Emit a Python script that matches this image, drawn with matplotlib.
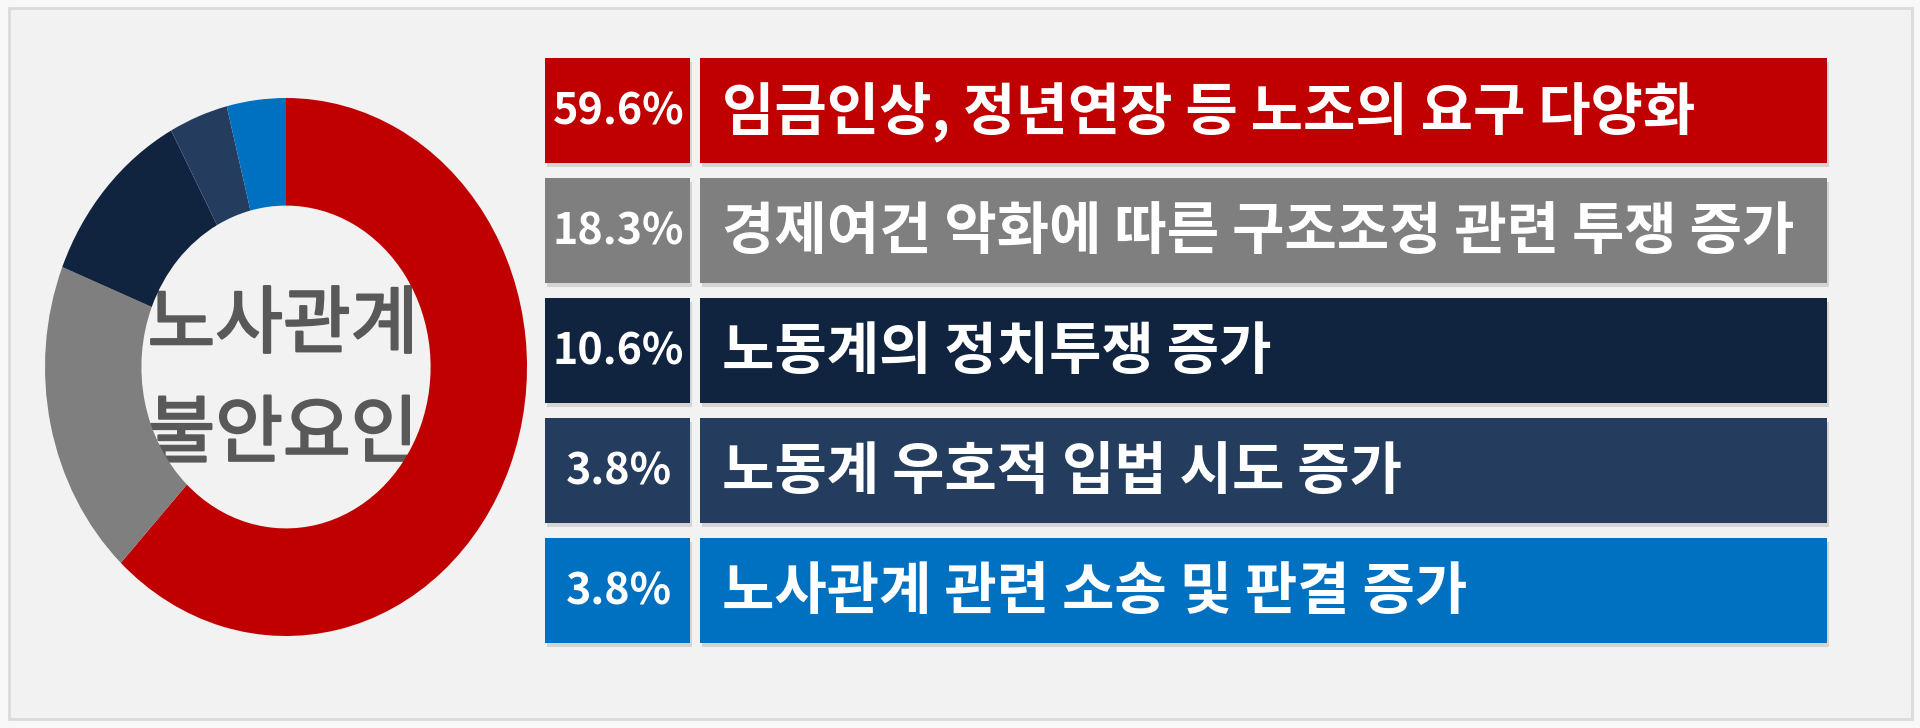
import matplotlib
matplotlib.use("Agg")
import matplotlib.pyplot as plt
import matplotlib.transforms as mtransforms
import matplotlib.patheffects as pe
from matplotlib.patches import Rectangle

plt.rcParams['font.family'] = ['Noto Sans CJK KR', 'DejaVu Sans']

# ---- data ----
categories = [
    "임금인상, 정년연장 등 노조의 요구 다양화",
    "경제여건 악화에 따른 구조조정 관련 투쟁 증가",
    "노동계의 정치투쟁 증가",
    "노동계 우호적 입법 시도 증가",
    "노사관계 관련 소송 및 판결 증가",
]
values = [59.6, 18.3, 10.6, 3.8, 3.8]
colors = ["#C00000", "#7F7F7F", "#10243F", "#243D5F", "#0070C0"]
center_title = "노사관계\n불안요인"

W, H = 1920, 728
fig = plt.figure(figsize=(W / 100, H / 100), dpi=100)
fig.patch.set_facecolor("#f8f8f8")

# full-figure pixel axes
ax = fig.add_axes([0, 0, 1, 1])
ax.set_xlim(0, W)
ax.set_ylim(H, 0)
ax.axis("off")

# frame
ax.add_patch(Rectangle((9, 8), 1903, 711, facecolor="#f2f2f2",
                       edgecolor="#dadada", lw=2, zorder=0))

# bars (table rows)
n = len(values)
row_top0, pitch, row_h = 58, 120, 105
centers = [row_top0 + row_h / 2 + pitch * i for i in range(n)]
sx, sw = 545, 145
lx, lw_ = 700, 1127

shadow_tr = ax.transData + mtransforms.ScaledTranslation(0.02, -0.04, fig.dpi_scale_trans)
for left, width in ((sx, sw), (lx, lw_)):
    ax.barh(centers, [width] * n, left=left, height=row_h, color="#000000",
            alpha=0.12, zorder=1, transform=shadow_tr)
    ax.barh(centers, [width] * n, left=left, height=row_h, color=colors, zorder=2)

for c, v, lab in zip(centers, values, categories):
    ax.text(sx + sw / 2 + 1, c + 1, f"{v:.1f}%", ha="center", va="center",
            color="white", fontsize=31, fontweight="bold", zorder=3)
    ax.text(lx + 22, c + 1, lab, ha="left", va="center",
            color="white", fontsize=41, fontweight="bold", zorder=3)

# donut
cx, cy, rx, ry = 286, 367, 241, 269
pax = fig.add_axes([(cx - rx) / W, (H - cy - ry) / H, 2 * rx / W, 2 * ry / H])
pax.pie(values, colors=colors, startangle=90, counterclock=False,
        wedgeprops=dict(width=0.40, linewidth=0))
pax.set_aspect("auto")
pax.set_xlim(-1, 1)
pax.set_ylim(-1, 1)
pax.axis("off")

ax.text(cx - 3, 381, center_title, ha="center", va="center", color="#595959",
        fontsize=53, fontweight="normal", linespacing=1.58, zorder=5,
        path_effects=[pe.withStroke(linewidth=1.6, foreground="#595959")])

fig.savefig("out.png", dpi=100, facecolor=fig.get_facecolor())
